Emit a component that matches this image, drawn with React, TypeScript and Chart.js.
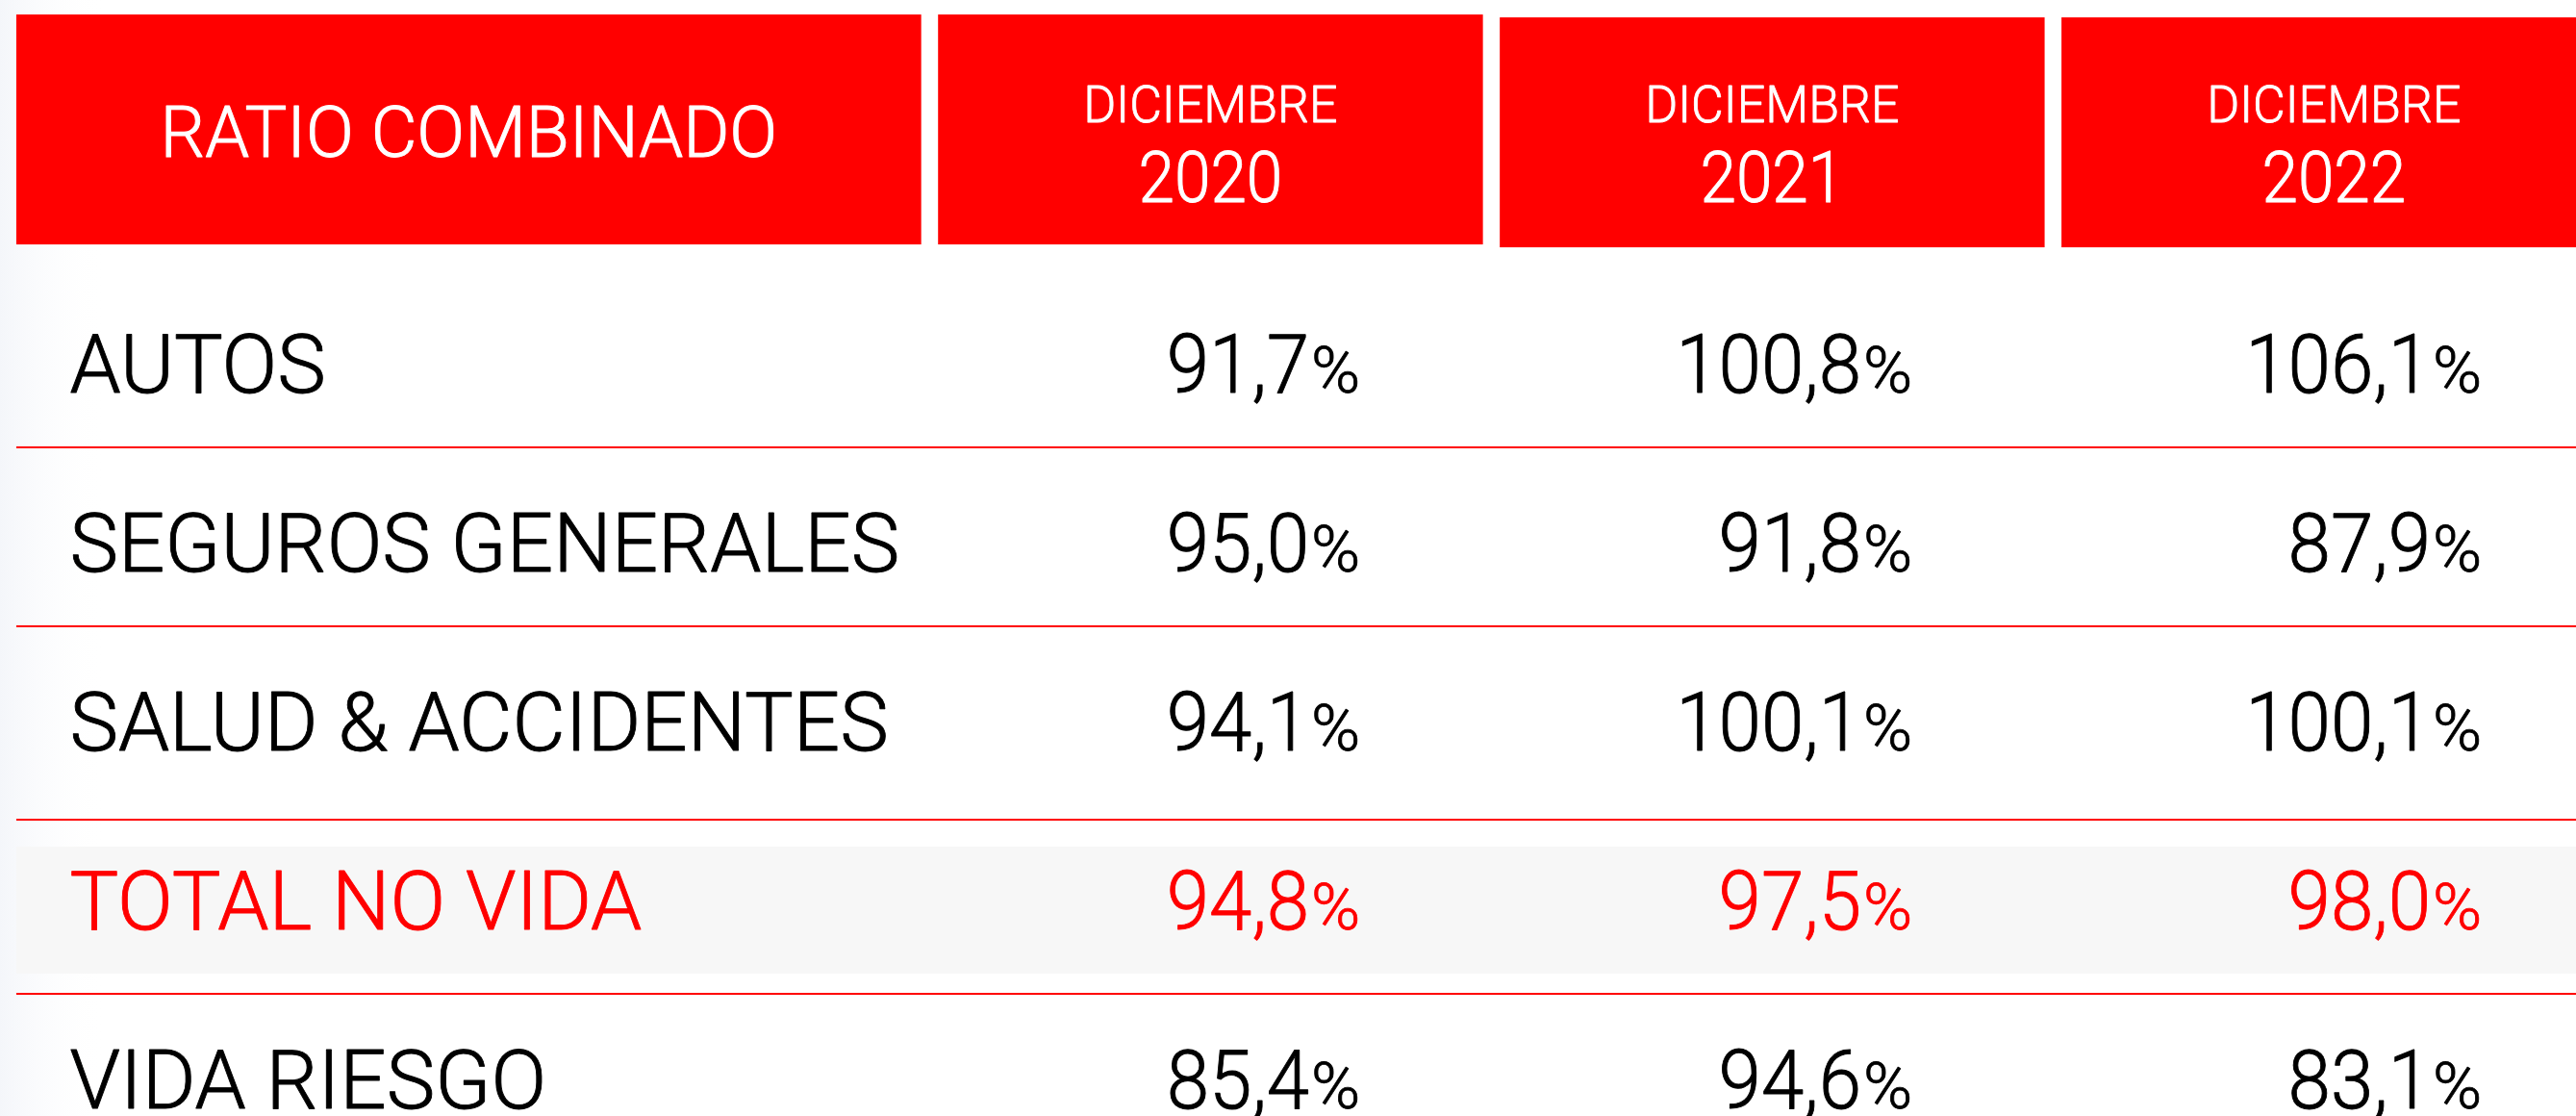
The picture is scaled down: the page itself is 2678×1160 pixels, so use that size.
import React, { useEffect, useRef } from "react";
import { Chart, registerables } from "chart.js";

Chart.register(...registerables);

// ---------------- DATA ----------------
const headerTitle = "RATIO COMBINADO";
const periodMonths = ["DICIEMBRE", "DICIEMBRE", "DICIEMBRE"];
const periodYears = ["2020", "2021", "2022"];
const categories = [
  "AUTOS",
  "SEGUROS GENERALES",
  "SALUD & ACCIDENTES",
  "TOTAL NO VIDA",
  "VIDA RIESGO",
];
const values2020 = [91.7, 95.0, 94.1, 94.8, 85.4];
const values2021 = [100.8, 91.8, 100.1, 97.5, 94.6];
const values2022 = [106.1, 87.9, 100.1, 98.0, 83.1];
const highlightRow = 3; // TOTAL NO VIDA

// ---------------- STYLE ----------------
const RED = "#ff0000";
const BLACK = "#000000";
const FONT = 'Roboto, "DejaVu Sans", "Liberation Sans", sans-serif';
const CAP = 0.711;

// x scale: year column k sits at value k+1; label column spans LABEL_LEFT..LABEL_RIGHT
const X_MIN = -1.155;
const X_MAX = 3.431;
const COL_HALF = 0.485;
const LABEL_LEFT = -1.126;
const LABEL_RIGHT = 0.485;
const LABEL_X = -1.031;
const VALUE_RIGHT = 0.255;
const VALUE_NUDGE = [7, -3, 5];
// y scale: row i sits at value i (reversed)
const Y_MIN = -2.027;
const Y_MAX = 4.21;
const HEADER_TOP = -1.946;
const HEADER_BOTTOM = -0.661;

const fmt = (v: number) => v.toFixed(1).replace(".", ",");

function drawText(
  ctx: CanvasRenderingContext2D,
  text: string,
  x: number,
  yCenter: number,
  size: number,
  color: string,
  align: CanvasTextAlign,
  sx: number,
  strokeW = 0.8
) {
  ctx.save();
  ctx.font = `300 ${size}px ${FONT}`;
  ctx.fillStyle = color;
  ctx.strokeStyle = color;
  ctx.lineJoin = "round";
  ctx.textAlign = align;
  ctx.textBaseline = "alphabetic";
  ctx.translate(x, yCenter + (size * CAP) / 2);
  ctx.scale(sx, 1);
  ctx.fillText(text, 0, 0);
  if (strokeW > 0) {
    ctx.lineWidth = strokeW;
    ctx.strokeText(text, 0, 0);
  }
  ctx.restore();
}

const tablePlugin = {
  id: "tablePlugin",
  beforeDraw(chart: any) {
    const { ctx, width, height } = chart;
    ctx.save();
    ctx.fillStyle = "#ffffff";
    ctx.fillRect(0, 0, width, height);
    const g = ctx.createLinearGradient(0, 0, 110, 0);
    g.addColorStop(0, "#f4f6fa");
    g.addColorStop(1, "rgba(255,255,255,0)");
    ctx.fillStyle = g;
    ctx.fillRect(0, 0, 110, height);
    ctx.restore();
  },
  beforeDatasetsDraw(chart: any) {
    const { ctx, width } = chart;
    const xs = chart.scales.x;
    const ys = chart.scales.y;
    const left = xs.getPixelForValue(LABEL_LEFT);
    ctx.save();
    // header boxes
    const top = ys.getPixelForValue(HEADER_TOP);
    const bottom = ys.getPixelForValue(HEADER_BOTTOM);
    ctx.fillStyle = RED;
    ctx.fillRect(left, top, xs.getPixelForValue(LABEL_RIGHT) - left, bottom - top);
    periodYears.forEach((_, k) => {
      const shift = k >= 1 ? 3 : 0;
      const l = xs.getPixelForValue(k + 1 - COL_HALF);
      const r = xs.getPixelForValue(k + 1 + COL_HALF);
      ctx.fillRect(l, top + shift, r - l, bottom - top);
    });
    // highlight band
    const hc = ys.getPixelForValue(highlightRow);
    ctx.fillStyle = "#f7f7f7";
    ctx.fillRect(left, hc - 55, width - left, 132);
    // separators
    ctx.strokeStyle = RED;
    ctx.lineWidth = 2;
    for (let i = 0; i < categories.length - 1; i++) {
      let y = (ys.getPixelForValue(i) + ys.getPixelForValue(i + 1)) / 2;
      if (i + 1 === highlightRow) y += 10;
      else if (i === highlightRow) y += 5;
      else y -= 5;
      ctx.beginPath();
      ctx.moveTo(left, Math.round(y));
      ctx.lineTo(width, Math.round(y));
      ctx.stroke();
    }
    ctx.restore();
  },
  afterDatasetsDraw(chart: any) {
    const { ctx } = chart;
    const xs = chart.scales.x;
    const ys = chart.scales.y;
    const top = ys.getPixelForValue(HEADER_TOP);
    const bottom = ys.getPixelForValue(HEADER_BOTTOM);
    const hMid = (top + bottom) / 2;
    // header texts
    const labelMid = (xs.getPixelForValue(LABEL_LEFT) + xs.getPixelForValue(LABEL_RIGHT)) / 2;
    drawText(ctx, headerTitle, labelMid, hMid + 1.5, 75, "#ffffff", "center", 0.98, 1.0);
    periodYears.forEach((yr, k) => {
      const cx = xs.getPixelForValue(k + 1);
      drawText(ctx, periodMonths[k], cx, hMid - 26.5, 53, "#ffffff", "center", 0.98, 0.8);
      drawText(ctx, yr, cx, hMid + 48.5, 75, "#ffffff", "center", 0.9, 1.0);
    });
    // row labels
    categories.forEach((c, i) => {
      const y = ys.getPixelForValue(i);
      drawText(ctx, c, xs.getPixelForValue(LABEL_X), y, 86, i === highlightRow ? RED : BLACK, "left", 0.99, 0.9);
    });
    // values from datasets
    chart.data.datasets.forEach((ds: any, di: number) => {
      const meta = chart.getDatasetMeta(di);
      meta.data.forEach((pt: any, i: number) => {
        const v = ds.data[i].v as number;
        const color = i === highlightRow ? RED : BLACK;
        const xr = xs.getPixelForValue(ds.data[i].x + VALUE_RIGHT) + VALUE_NUDGE[di];
        const y = pt.y;
        ctx.save();
        ctx.font = `300 66px ${FONT}`;
        const pw = ctx.measureText("%").width * 1.05;
        ctx.restore();
        const baseline = y + (86 * CAP) / 2;
        const pctCenter = baseline - (66 * CAP) / 2;
        drawText(ctx, "%", xr, pctCenter, 66, color, "right", 1.05, 0.8);
        drawText(ctx, fmt(v), xr - pw - 2, y, 86, color, "right", 0.93, 0.9);
      });
    });
  },
};

const seriesList = [values2020, values2021, values2022];

export default function App() {
  const ref = useRef<HTMLCanvasElement | null>(null);
  useEffect(() => {
    document.body.style.margin = "0";
    document.body.style.overflow = "hidden";
    if (!ref.current) return;
    const chart = new Chart(ref.current, {
      type: "scatter",
      data: {
        datasets: seriesList.map((vals, k) => ({
          label: periodYears[k],
          data: vals.map((v, i) => ({ x: k + 1, y: i, v })),
          pointRadius: 0,
          pointHoverRadius: 0,
          showLine: false,
        })),
      } as any,
      options: {
        animation: false,
        responsive: true,
        maintainAspectRatio: false,
        layout: { padding: 0 },
        events: [],
        plugins: {
          legend: { display: false },
          tooltip: { enabled: false },
          title: { display: false },
        },
        scales: {
          x: { type: "linear", min: X_MIN, max: X_MAX, display: false },
          y: { type: "linear", min: Y_MIN, max: Y_MAX, reverse: true, display: false },
        },
      },
      plugins: [tablePlugin],
    });
    return () => chart.destroy();
  }, []);
  return (
    <div style={{ position: "fixed", left: 0, top: 0, width: "2678px", height: "1160px" }}>
      <canvas ref={ref} />
    </div>
  );
}
